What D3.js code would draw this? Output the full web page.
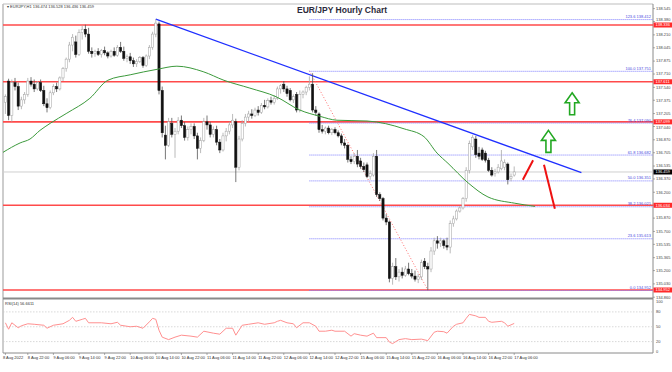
<!DOCTYPE html>
<html>
<head>
<meta charset="utf-8">
<script src="https://cdn.jsdelivr.net/npm/d3@7"></script>
<style>
  body { margin: 0; background: #fff; }
  svg { display: block; font-family: 'Liberation Sans', Arial, sans-serif; }
</style>
</head>
<body>
<svg id="chart" width="672" height="372"></svg>
<script>
var svg = d3.select("#chart");

// layout
var left = 3, right = 653;
var mainTop = 4, mainBottom = 297;
var rsiTop = 299, rsiBottom = 353;

// hourly bars, 8 Aug 15:00 -> 17 Aug 06:00, [open, high, low, close]
var bars = [
  [137.35,137.45,137.20,137.42],[137.62,137.65,137.12,137.18],[137.18,137.64,137.10,137.60],[137.60,137.66,137.50,137.55],
  [137.55,137.60,137.25,137.30],[137.30,137.42,137.26,137.38],[137.38,137.48,137.33,137.45],[137.45,137.66,137.42,137.62],
  [137.62,137.67,137.55,137.58],[137.58,137.64,137.48,137.52],[137.52,137.62,137.50,137.60],[137.60,137.64,137.48,137.50],
  [137.50,137.56,137.30,137.33],[137.33,137.40,137.22,137.28],[137.28,137.50,137.26,137.47],[137.47,137.58,137.44,137.55],
  [137.55,137.60,137.48,137.52],[137.52,137.68,137.50,137.66],[137.66,137.80,137.62,137.78],[137.78,137.92,137.74,137.90],
  [137.90,138.12,137.86,138.08],[138.08,138.22,138.00,138.18],[138.12,138.20,137.92,137.96],[137.96,138.28,137.94,138.24],
  [138.24,138.33,138.15,138.28],[138.28,138.34,138.18,138.22],[138.22,138.30,137.97,138.00],[138.00,138.05,137.92,137.97],
  [137.97,138.02,137.93,138.00],[138.00,138.04,137.94,137.96],[137.96,138.03,137.92,138.01],[138.01,138.06,137.95,137.98],
  [137.98,138.00,137.91,137.94],[137.94,138.02,137.92,138.00],[138.00,138.05,137.93,137.95],[137.95,138.08,137.93,138.05],
  [138.05,138.12,137.98,138.00],[138.00,138.06,137.88,137.91],[137.91,137.96,137.86,137.93],[137.93,137.98,137.84,137.88],
  [137.88,137.92,137.80,137.84],[137.84,137.90,137.80,137.87],[137.87,137.94,137.85,137.92],[137.92,137.94,137.79,137.82],
  [137.82,137.96,137.80,137.94],[137.94,138.08,137.90,138.05],[138.05,138.25,138.02,138.22],[138.22,138.41,138.18,138.36],
  [138.35,138.38,137.45,137.50],[137.50,137.55,136.90,136.96],[136.93,137.05,136.62,136.80],[136.80,137.15,136.78,137.10],
  [137.08,137.15,136.90,136.94],[136.94,137.02,136.64,136.98],[136.98,137.16,136.94,137.12],[137.12,137.18,137.02,137.05],
  [137.05,137.10,136.86,136.90],[136.90,137.04,136.86,137.00],[137.00,137.08,136.94,137.04],[137.04,137.08,136.88,136.92],
  [136.92,136.96,136.62,136.76],[136.76,136.90,136.70,136.86],[136.86,137.15,136.84,137.10],[137.10,137.18,137.00,137.06],
  [137.06,137.10,136.90,136.94],[136.94,137.04,136.90,137.00],[137.00,137.05,136.80,136.84],[136.84,136.88,136.70,136.74],
  [136.74,136.96,136.72,136.92],[136.92,137.02,136.85,136.98],[136.98,137.10,136.94,137.06],[137.06,137.20,137.02,137.12],
  [137.10,137.14,136.33,136.52],[136.52,136.92,136.48,136.88],[136.88,137.12,136.85,137.08],[137.08,137.20,137.04,137.16],
  [137.16,137.24,137.10,137.20],[137.20,137.26,137.14,137.18],[137.18,137.28,137.16,137.25],[137.25,137.30,137.18,137.22],
  [137.22,137.34,137.20,137.31],[137.31,137.38,137.26,137.29],[137.29,137.40,137.27,137.37],[137.37,137.42,137.32,137.35],
  [137.35,137.44,137.32,137.40],[137.40,137.55,137.38,137.52],[137.52,137.58,137.46,137.56],[137.58,137.62,137.48,137.52],
  [137.52,137.56,137.42,137.46],[137.50,137.53,137.36,137.38],[137.38,137.45,137.34,137.42],[137.45,137.48,137.22,137.25],
  [137.25,137.50,137.22,137.45],[137.45,137.50,137.40,137.48],[137.48,137.56,137.44,137.54],[137.54,137.68,137.50,137.58],
  [137.58,137.72,137.22,137.25],[137.25,137.30,137.18,137.22],[137.20,137.22,136.96,137.00],[137.00,137.06,136.95,136.98],
  [136.98,137.04,136.94,137.02],[137.02,137.05,136.94,136.96],[136.96,137.02,136.93,137.00],[137.00,137.03,136.94,136.96],
  [136.96,136.99,136.90,136.92],[136.92,136.95,136.80,136.83],[136.83,136.88,136.76,136.80],[136.80,136.82,136.58,136.62],
  [136.62,136.66,136.56,136.59],[136.59,136.70,136.56,136.66],[136.66,136.74,136.52,136.56],[136.60,136.64,136.50,136.53],
  [136.53,136.58,136.46,136.49],[136.55,136.58,136.38,136.40],[136.40,136.48,136.36,136.44],[136.42,136.70,136.40,136.66],
  [136.66,136.74,136.14,136.17],[136.17,136.20,136.09,136.12],[136.12,136.14,135.84,135.87],[135.87,135.92,135.78,135.82],
  [135.82,135.84,135.05,135.10],[135.10,135.30,135.02,135.25],[135.25,135.36,135.08,135.12],[135.12,135.22,135.06,135.18],
  [135.18,135.24,135.10,135.14],[135.14,135.26,135.12,135.22],[135.22,135.30,135.14,135.16],[135.16,135.22,135.10,135.13],
  [135.13,135.20,135.06,135.09],[135.09,135.16,135.04,135.12],[135.12,135.34,135.08,135.30],[135.32,135.36,135.22,135.25],
  [135.25,135.30,134.95,135.22],[135.22,135.50,135.18,135.45],[135.45,135.62,135.40,135.58],[135.58,135.64,135.48,135.55],
  [135.55,135.62,135.50,135.58],[135.58,135.60,135.48,135.52],[135.52,135.62,135.46,135.50],[135.50,135.84,135.42,135.80],
  [135.80,135.90,135.76,135.86],[135.86,135.98,135.84,135.96],[135.96,136.02,135.94,136.00],[136.00,136.14,135.98,136.12],
  [136.12,136.52,136.08,136.48],[136.48,136.86,136.44,136.82],[136.78,136.93,136.74,136.90],[136.88,136.92,136.64,136.68],
  [136.70,136.78,136.62,136.66],[136.74,136.77,136.60,136.62],[136.70,136.73,136.58,136.61],[136.61,136.64,136.46,136.48],
  [136.48,136.52,136.40,136.42],[136.44,136.50,136.40,136.46],[136.46,136.56,136.44,136.52],[136.50,136.74,136.48,136.60],
  [136.52,136.62,136.48,136.58],[136.56,136.58,136.30,136.36],[136.38,136.44,136.34,136.40],[136.42,136.53,136.40,136.459]
];

// moving average, [bar, price]
var maPoints = [
  [-1,136.71],[4.6,136.83],[7.7,136.88],[10.8,136.99],[14,137.08],[19.2,137.21],[26.4,137.40],[32,137.63],
  [39,137.70],[47.4,137.77],[53.6,137.81],[61.8,137.74],[68.3,137.63],[76.4,137.53],[84.6,137.42],[92,137.25],
  [98.3,137.17],[103.6,137.12],[113,137.11],[124.6,137.01],[130.8,136.91],[134.9,136.70],[138.3,136.57],
  [144.6,136.32],[150.8,136.14],[159.2,136.06],[165.5,136.02]
];

// RSI(14), [bar, value]
var rsiPoints = [
  [0,58],[1,45],[2,58],[4,48],[5,52],[7,56],[9,55],[12,53],[13,47],[15,53],[18,56],[20,63],[21,69],[22,61],
  [24,65],[25,67],[26,58],[30,58],[33,56],[35,59],[36,53],[39,50],[41,51],[43,47],[45,60],[46,67],[47,65],
  [48,43],[49,29],[51,24],[53,29],[55,33],[58,31],[60,29],[62,41],[65,37],[67,35],[69,47],[71,47],[72,33],
  [74,53],[76,55],[79,58],[81,55],[84,58],[85,61],[86,63],[88,58],[90,56],[91,48],[93,58],[95,58],[97,51],
  [98,41],[100,41],[102,43],[103,41],[106,41],[108,31],[109,36],[111,33],[113,31],[115,37],[116,28],[119,28],
  [120,19],[121,16],[123,24],[125,26],[127,24],[130,25],[132,22],[134,39],[135,41],[137,40],[138,37],[140,51],
  [141,55],[143,58],[144,67],[145,75],[147,72],[148,69],[150,69],[151,61],[152,59],[155,61],[156,58],[157,51],
  [159,56.66]
];

var timeLabels = ["8 Aug 2022", "8 Aug 22:00", "9 Aug 06:00", "9 Aug 14:00", "9 Aug 22:00", "10 Aug 06:00",
  "10 Aug 14:00", "10 Aug 22:00", "11 Aug 06:00", "11 Aug 14:00", "11 Aug 22:00", "12 Aug 06:00",
  "12 Aug 14:00", "12 Aug 22:00", "15 Aug 06:00", "15 Aug 14:00", "15 Aug 22:00", "16 Aug 06:00",
  "16 Aug 14:00", "16 Aug 22:00", "17 Aug 06:00"];
var timeIndex = [0, 7, 15, 23, 31, 39, 47, 55, 63, 71, 79, 87, 95, 103, 111, 119, 127, 135, 143, 151, 159];

var priceTicks = [138.545, 138.380, 138.210, 138.045, 137.875, 137.710, 137.540, 137.375, 137.205, 137.040,
  136.870, 136.705, 136.535, 136.370, 136.200, 136.035, 135.870, 135.700, 135.535, 135.365, 135.200,
  135.030, 134.860];
var rsiTicks = [100, 80, 50, 20, 0];
var rsiGrid = [80, 50, 20];

// horizontal support / resistance
var levels = [138.336, 137.611, 137.099, 136.034, 134.952];
var currentPrice = 136.459;

// fibonacci: swing high at bar 95, swing low at bar 132
var fibRatios = [123.6, 100, 76.4, 61.8, 50, 38.2, 23.6, 0];
var fibHigh = 137.751, fibLow = 134.952;
var fibFrom = 95, fibTo = 132;

// trend line [bar, price]
var trend = [[47, 138.41], [180, 136.45]];

// annotations [bar, price]
var greenArrows = [[177.1, 137.47], [169.7, 136.99]];
var redStrokes = [
  [[161.7, 136.36], [164.9, 136.61]],
  [[168.3, 136.55], [171.7, 135.99]]
];

var x = d3.scaleLinear().domain([0, 159]).range([5.4, 514.2]);
var y = d3.scaleLinear().domain([fibLow, 138.336]).range([290, 25]);
var yRsi = d3.scaleLinear().domain([0, 100]).range([351.5, 302]);
var fmt = d3.format(".3f");

(function main() {
  drawFrame();
  drawLevels();
  drawFib();
  drawTrend();
  drawCandles();
  drawMA();
  drawAnnotations();
  drawPriceAxis();
  drawRsi();
  drawTimeAxis();
  headings();
})();

function drawFrame() {
  svg.append("rect").attr("width", 672).attr("height", 372).attr("fill", "#fff");
  svg.append("line").attr("x1", left).attr("x2", right).attr("y1", mainTop).attr("y2", mainTop)
    .attr("stroke", "#bdbdbd").attr("stroke-width", 1);
  svg.append("line").attr("x1", left).attr("x2", left).attr("y1", mainTop).attr("y2", rsiBottom)
    .attr("stroke", "#bdbdbd").attr("stroke-width", 1.5);
  svg.append("line").attr("x1", right).attr("x2", right).attr("y1", mainTop).attr("y2", rsiBottom)
    .attr("stroke", "#8a8a8a").attr("stroke-width", 1);
  svg.append("line").attr("x1", left).attr("x2", right).attr("y1", 298.5).attr("y2", 298.5)
    .attr("stroke", "#8a8a8a").attr("stroke-width", 2);
  svg.append("line").attr("x1", left).attr("x2", right).attr("y1", rsiBottom).attr("y2", rsiBottom)
    .attr("stroke", "#8a8a8a").attr("stroke-width", 1);
}

function drawLevels() {
  svg.append("line")
    .attr("x1", left).attr("x2", right)
    .attr("y1", y(currentPrice)).attr("y2", y(currentPrice))
    .attr("stroke", "#cfcfcf").attr("stroke-width", 1);
  svg.selectAll(".level").data(levels).enter().append("line")
    .attr("class", "level")
    .attr("x1", left).attr("x2", right)
    .attr("y1", function(d) { return y(d); })
    .attr("y2", function(d) { return y(d); })
    .attr("stroke", "#ff4a4a").attr("stroke-width", 1.6);
}

function drawFib() {
  var fib = fibRatios.map(function(r) { return [r, fibLow + (fibHigh - fibLow) * r / 100]; });
  svg.append("line")
    .attr("x1", x(fibFrom)).attr("y1", y(fibHigh))
    .attr("x2", x(fibTo)).attr("y2", y(fibLow))
    .attr("stroke", "#ff7070").attr("stroke-width", 1)
    .attr("stroke-dasharray", "1,2");
  svg.selectAll(".fib").data(fib).enter().append("line")
    .attr("class", "fib")
    .attr("x1", x(fibFrom)).attr("x2", right)
    .attr("y1", function(d) { return y(d[1]) + 0.5; })
    .attr("y2", function(d) { return y(d[1]) + 0.5; })
    .attr("stroke", "#7b7bff").attr("stroke-width", 1)
    .attr("stroke-dasharray", "1,1");
  svg.selectAll(".fibtxt").data(fib).enter().append("text")
    .attr("class", "fibtxt")
    .attr("x", right - 2).attr("y", function(d) { return y(d[1]) - 1; })
    .attr("text-anchor", "end")
    .style("font-size", "4px").style("fill", "#4a4ae0")
    .text(function(d) { return d3.format(".1f")(d[0]) + " " + fmt(d[1]); });
}

function drawTrend() {
  var line = d3.line().x(function(d) { return x(d[0]); }).y(function(d) { return y(d[1]); });
  svg.append("path").attr("d", line(trend))
    .attr("stroke", "#1f2fff").attr("stroke-width", 1.3).attr("fill", "none");
}

function drawCandles() {
  var g = svg.append("g");
  var c = g.selectAll("g").data(bars).enter().append("g");
  c.append("line")
    .attr("x1", function(d, i) { return x(i); })
    .attr("x2", function(d, i) { return x(i); })
    .attr("y1", function(d) { return y(d[1]); })
    .attr("y2", function(d) { return y(d[2]); })
    .attr("stroke", function(d) { return d[3] >= d[0] ? "#a8a8a8" : "#555"; })
    .attr("stroke-width", 0.8);
  c.append("rect")
    .attr("x", function(d, i) { return x(i) - 1.1; })
    .attr("width", 2.2)
    .attr("y", function(d) { return y(Math.max(d[0], d[3])); })
    .attr("height", function(d) { return Math.max(0.8, Math.abs(y(d[0]) - y(d[3]))); })
    .attr("fill", function(d) { return d[3] >= d[0] ? "#fff" : "#111"; })
    .attr("stroke", function(d) { return d[3] >= d[0] ? "#a0a0a0" : "#111"; })
    .attr("stroke-width", 0.5);
}

function drawMA() {
  var line = d3.line().curve(d3.curveMonotoneX)
    .x(function(d) { return Math.max(left, x(d[0])); })
    .y(function(d) { return y(d[1]); });
  svg.append("path").attr("d", line(maPoints))
    .attr("stroke", "#3c9a3c").attr("stroke-width", 1).attr("fill", "none");
}

function drawAnnotations() {
  greenArrows.forEach(function(a) {
    var cx = x(a[0]), ty = y(a[1]);
    var p = [[cx, ty], [cx + 7, ty + 10], [cx + 2.5, ty + 10], [cx + 2.5, ty + 22],
             [cx - 2.5, ty + 22], [cx - 2.5, ty + 10], [cx - 7, ty + 10]];
    svg.append("path").attr("d", "M" + p.join("L") + "Z")
      .attr("fill", "#fff").attr("stroke", "#22a822").attr("stroke-width", 1.6)
      .attr("stroke-linejoin", "miter");
  });
  var line = d3.line().x(function(d) { return x(d[0]); }).y(function(d) { return y(d[1]); });
  redStrokes.forEach(function(s) {
    svg.append("path").attr("d", line(s))
      .attr("stroke", "#ee1111").attr("stroke-width", 2).attr("fill", "none");
  });
}

function drawPriceAxis() {
  var tags = levels.map(function(d) { return [d, "#ff2a2a"]; }).concat([[currentPrice, "#000"]]);

  // tick text: hide it when a tag sits right on it, nudge it off a tag that is close
  var labels = [];
  priceTicks.forEach(function(d) {
    var ty = y(d), hide = false;
    tags.forEach(function(t) {
      var dist = ty - y(t[0]);
      if (Math.abs(dist) < 1.5) hide = true;
      else if (Math.abs(dist) < 5.5) ty = y(t[0]) + (dist > 0 ? 5.5 : -5.5);
    });
    if (!hide) labels.push([d, ty]);
  });

  svg.selectAll(".ptick").data(priceTicks).enter().append("line")
    .attr("x1", right).attr("x2", right + 2)
    .attr("y1", function(d) { return y(d); }).attr("y2", function(d) { return y(d); })
    .attr("stroke", "#777").attr("stroke-width", 0.6);
  svg.selectAll(".plabel").data(labels).enter().append("text")
    .attr("x", right + 3).attr("y", function(d) { return d[1] + 1.3; })
    .style("font-size", "4px").style("fill", "#444")
    .text(function(d) { return fmt(d[0]); });

  tags.forEach(function(t) {
    svg.append("rect").attr("x", right + 0.5).attr("y", y(t[0]) - 2.5)
      .attr("width", 18.5).attr("height", 5).attr("fill", t[1]);
    svg.append("text").attr("x", right + 2.5).attr("y", y(t[0]) + 1.4)
      .style("font-size", "4px").style("fill", "#fff").text(fmt(t[0]));
  });
}

function drawRsi() {
  svg.selectAll(".rgrid").data(rsiGrid).enter().append("line")
    .attr("x1", left).attr("x2", right)
    .attr("y1", function(d) { return yRsi(d); }).attr("y2", function(d) { return yRsi(d); })
    .attr("stroke", "#c8c8c8").attr("stroke-width", 0.7).attr("stroke-dasharray", "1.5,1.5");
  var line = d3.line().x(function(d) { return x(d[0]); }).y(function(d) { return yRsi(d[1]); });
  svg.append("path").attr("d", line(rsiPoints))
    .attr("stroke", "#ff9090").attr("stroke-width", 1).attr("fill", "none");
  svg.selectAll(".rlabel").data(rsiTicks).enter().append("text")
    .attr("x", right + 3).attr("y", function(d) { return yRsi(d) + 1.4; })
    .style("font-size", "4px").style("fill", "#444")
    .text(function(d) { return d; });
  svg.append("text").attr("x", 5).attr("y", 304.5)
    .style("font-size", "4px").style("fill", "#333")
    .text("RSI(14) 56.6611");
}

function drawTimeAxis() {
  timeLabels.forEach(function(t, k) {
    var xi = x(timeIndex[k]);
    svg.append("line").attr("x1", xi).attr("x2", xi).attr("y1", rsiBottom).attr("y2", rsiBottom + 2)
      .attr("stroke", "#777").attr("stroke-width", 0.6);
    svg.append("text").attr("x", k == 0 ? 3 : xi).attr("y", 359)
      .style("font-size", "4px").style("fill", "#333")
      .text(t);
  });
}

function headings() {
  svg.append("text")
    .attr("x", 342).attr("y", 13)
    .attr("text-anchor", "middle")
    .style("font-size", "8.5px")
    .style("font-weight", "bold")
    .style("fill", "#2b2b3b")
    .text("EUR/JPY Hourly Chart");
  svg.append("text")
    .attr("x", 7).attr("y", 8)
    .style("font-size", "4px")
    .style("fill", "#333")
    .text("\u25BE EURJPY,H1  136.474 136.528 136.436 136.459");
}
</script>
</body>
</html>
